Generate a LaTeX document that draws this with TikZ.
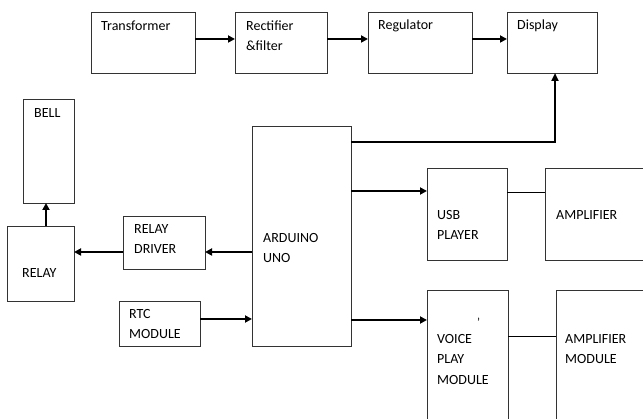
\documentclass[tikz,border=0pt]{standalone}
\usepackage{fontspec}
\setmainfont{Carlito}
\usetikzlibrary{arrows.meta,calc}
\begin{document}
\begin{tikzpicture}[x=1pt,y=-1pt,
  box/.style={draw=black!80,line width=0.9pt,rectangle,anchor=north west,inner sep=0pt,outer sep=0pt},
  lbl/.style={anchor=base west,inner sep=0pt,font=\fontsize{14}{16}\selectfont},
  arr/.style={line width=1.8pt,-{Triangle[length=7pt,width=7pt]}},
  thin/.style={line width=0.9pt}]
\useasboundingbox (0,0) rectangle (643,419);
\clip (0,0) rectangle (643,419);
% boxes
\node[box,minimum width=104pt,minimum height=61pt] (transformer) at (91,12) {};
\node[box,minimum width=92pt,minimum height=61pt] (rectifier) at (235,12) {};
\node[box,minimum width=104pt,minimum height=61pt] (regulator) at (368,12) {};
\node[box,minimum width=90pt,minimum height=61pt] (display) at (507,12) {};
\node[box,minimum width=51pt,minimum height=104pt] (bell) at (23,99) {};
\node[box,minimum width=67pt,minimum height=75pt] (relay) at (7,226) {};
\node[box,minimum width=82pt,minimum height=53pt] (driver) at (123,216) {};
\node[box,minimum width=99pt,minimum height=220pt] (arduino) at (252,126) {};
\node[box,minimum width=81pt,minimum height=45pt] (rtc) at (119,301) {};
\node[box,minimum width=80pt,minimum height=92pt] (usb) at (427,168) {};
\node[box,minimum width=110pt,minimum height=92pt] (amp) at (545,168) {};
\node[box,minimum width=81pt,minimum height=140pt] (voice) at (427,290) {};
\node[box,minimum width=100pt,minimum height=140pt] (ampmod) at (556,290) {};
% labels
\node[lbl] (tTransformer) at (101,31) {Transformer};
\node[lbl] (tRect1) at (246,31) {Rectifier};
\node[lbl] (tRect2) at (246,51) {\&filter};
\node[lbl] (tReg) at (378,30) {Regulator};
\node[lbl] (tDisp) at (517,30) {Display};
\node[lbl] (tBell) at (34,118) {BELL};
\node[lbl] (tDrv1) at (134,234) {RELAY};
\node[lbl] (tDrv2) at (134,254) {DRIVER};
\node[lbl] (tRelay) at (22,278) {RELAY};
\node[lbl] (tArd1) at (263,243) {ARDUINO};
\node[lbl] (tArd2) at (263,263) {UNO};
\node[lbl] (tRtc1) at (129,319) {RTC};
\node[lbl] (tRtc2) at (129,339) {MODULE};
\node[lbl] (tUsb1) at (437,220) {USB};
\node[lbl] (tUsb2) at (437,240) {PLAYER};
\node[lbl] (tAmp) at (556,220) {AMPLIFIER};
\node[lbl] (tVoice1) at (437,344) {VOICE};
\node[lbl,font=\fontsize{12}{14}\selectfont] (tApos) at (477,327) {\char"0027};
\node[lbl] (tVoice2) at (437,364) {PLAY};
\node[lbl] (tVoice3) at (437,385) {MODULE};
\node[lbl] (tAmpm1) at (565,344) {AMPLIFIER};
\node[lbl] (tAmpm2) at (565,364) {MODULE};
% connectors
\draw[arr] ([yshift=-27pt]transformer.north east) -- ([yshift=-27pt]rectifier.north west);
\draw[arr] ([yshift=-27pt]rectifier.north east) -- ([yshift=-27pt]regulator.north west);
\draw[arr] ([yshift=-27pt]regulator.north east) -- ([yshift=-27pt]display.north west);
\draw[line width=2.4pt,-{Triangle[length=8pt,width=7pt]}] ([yshift=-16pt]arduino.north east) -| ([xshift=48pt]display.south west);
\draw[arr] ([yshift=-65pt]arduino.north east) -- ([yshift=-23pt]usb.north west);
\draw[arr] ([yshift=-194pt]arduino.north east) -- ([yshift=-30pt]voice.north west);
\draw[thin] ([yshift=-24pt]usb.north east) -- ([yshift=-24pt]amp.north west);
\draw[thin] ([yshift=-46pt]voice.north east) -- ([yshift=-46pt]ampmod.north west);
\draw[arr] ([yshift=-126pt]arduino.north west) -- ([yshift=-36pt]driver.north east);
\draw[arr] ([yshift=-36pt]driver.north west) -- ([yshift=-26pt]relay.north east);
\draw[arr] ([yshift=-18pt]rtc.north east) -- ([yshift=-193pt]arduino.north west);
\draw[arr] ([xshift=39pt]relay.north west) -- ([xshift=23pt]bell.south west);
\end{tikzpicture}
\end{document}
